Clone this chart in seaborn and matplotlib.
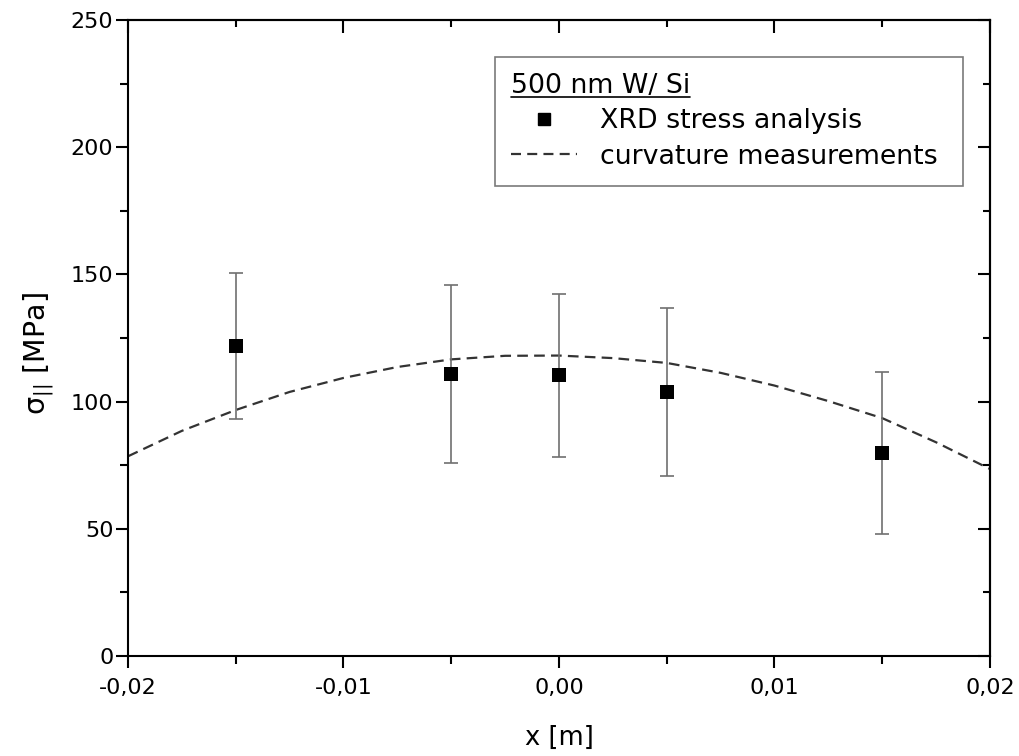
import numpy as np
import pandas as pd
import matplotlib
matplotlib.use("Agg")
import matplotlib.pyplot as plt
import seaborn as sns
from matplotlib.lines import Line2D
from matplotlib.ticker import MultipleLocator, FixedLocator, FixedFormatter

# ---- data ----
xrd_x = [-0.015, -0.005, 0.0, 0.005, 0.015]
xrd_sigma = [121.8, 110.8, 110.3, 103.6, 79.8]
xrd_err = [28.8, 35.0, 32.0, 33.0, 31.8]

curv_x = [-0.02, -0.0175, -0.015, -0.0125, -0.01, -0.0075, -0.005, -0.0025,
          0.0, 0.0025, 0.005, 0.0075, 0.01, 0.0125, 0.015, 0.0175, 0.02]
curv_sigma = [78.5, 88.5, 96.7, 103.8, 109.3, 113.6, 116.6, 118.0,
              118.1, 117.1, 115.2, 111.3, 106.3, 100.2, 93.5, 84.0, 73.5]

xticks = [-0.02, -0.01, 0.0, 0.01, 0.02]
xtick_labels = ["-0,02", "-0,01", "0,00", "0,01", "0,02"]
yticks = [0, 50, 100, 150, 200, 250]
ytick_labels = ["0", "50", "100", "150", "200", "250"]

legend_title = "500 nm W/ Si"
label_xrd = "XRD stress analysis"
label_curv = "curvature measurements"

xrd_df = pd.DataFrame({"x": xrd_x, "sigma": xrd_sigma, "err": xrd_err})
curv_df = pd.DataFrame({"x": curv_x, "sigma": curv_sigma})

# ---- style ----
sns.set_theme(style="ticks")
plt.rcParams["font.family"] = ["DejaVu Sans"]
plt.rcParams["mathtext.fontset"] = "dejavusans"
for k in ["text.color", "axes.labelcolor", "xtick.color", "ytick.color", "axes.edgecolor"]:
    plt.rcParams[k] = "black"

fig = plt.figure(figsize=(10.19, 7.56), dpi=100)
ax = fig.add_axes([128 / 1019, 1 - 656 / 756, (990 - 128) / 1019, (656 - 20) / 756])

# curve
sns.lineplot(data=curv_df, x="x", y="sigma", ax=ax, color="#333333",
             lw=1.6, legend=False, zorder=2)
ax.lines[-1].set_dashes((4.8, 2.8))

# error bars
ax.errorbar(xrd_df["x"], xrd_df["sigma"], yerr=xrd_df["err"], fmt="none",
            ecolor="#707070", elinewidth=1.2, capsize=5, capthick=1.2, zorder=3)
sns.scatterplot(data=xrd_df, x="x", y="sigma", ax=ax, marker="s", s=105,
                color="black", edgecolor="black", linewidth=0, zorder=4, legend=False)

ax.set_xlim(-0.02, 0.02)
ax.set_ylim(0, 250)
ax.xaxis.set_major_locator(FixedLocator(xticks))
ax.xaxis.set_major_formatter(FixedFormatter(xtick_labels))
ax.yaxis.set_major_locator(FixedLocator(yticks))
ax.yaxis.set_major_formatter(FixedFormatter(ytick_labels))
ax.xaxis.set_minor_locator(MultipleLocator(0.005))
ax.yaxis.set_minor_locator(MultipleLocator(25))

for sp in ax.spines.values():
    sp.set_visible(True)
    sp.set_linewidth(1.5)
    sp.set_color("black")

ax.tick_params(which="major", direction="out", length=8.5, width=1.5,
               labelsize=16, colors="black", top=False, right=False)
ax.tick_params(which="minor", direction="out", length=5.5, width=1.5,
               colors="black", top=False, right=False)
ax.tick_params(axis="x", which="major", pad=7.5)
ax.tick_params(axis="y", which="major", pad=2)

# inward ticks on top and right
secx = ax.secondary_xaxis("top")
secx.xaxis.set_major_locator(FixedLocator(xticks))
secx.xaxis.set_minor_locator(MultipleLocator(0.005))
secx.tick_params(which="major", direction="in", length=9, width=1.5, labeltop=False)
secx.tick_params(which="minor", direction="in", length=5, width=1.5)
secx.spines["top"].set_linewidth(1.5)
secy = ax.secondary_yaxis("right")
secy.yaxis.set_major_locator(FixedLocator(yticks))
secy.yaxis.set_minor_locator(MultipleLocator(25))
secy.tick_params(which="major", direction="in", length=9, width=1.5, labelright=False)
secy.tick_params(which="minor", direction="in", length=5, width=1.5)
secy.spines["right"].set_linewidth(1.5)

ax.set_xlabel("x [m]", fontsize=18.5, labelpad=19, color="black")
ax.set_ylabel(r"$\mathregular{\sigma_{||}}$ [MPa]", fontsize=20.5, color="black")
ax.yaxis.set_label_coords(-0.084, 0.475)

# legend
handles = [
    Line2D([], [], marker="s", ls="none", color="black", markersize=9),
    Line2D([], [], ls=(0, (4.5, 2.8)), color="#333333", lw=1.6),
]
L0, R0, T0, B0 = 495 / 1019, 963 / 1019, 1 - 57 / 756, 1 - 185 / 756
leg = ax.legend(handles, [label_xrd, label_curv], title=legend_title,
                loc="upper left", bbox_to_anchor=(L0, B0, R0 - L0, T0 - B0),
                bbox_transform=fig.transFigure, mode="expand",
                fontsize=19.3, title_fontsize=19.3,
                alignment="left", frameon=True, fancybox=False, edgecolor="#7a7a7a",
                framealpha=1, borderpad=0.6, labelspacing=0.35, handlelength=2.45,
                handletextpad=0.85, borderaxespad=0)
leg.get_frame().set_linewidth(1.2)
for t in leg.get_texts():
    t.set_color("black")
leg.get_title().set_color("black")

# underline the legend title
fig.canvas.draw()
bb = leg.get_title().get_window_extent(fig.canvas.get_renderer())
inv = fig.transFigure.inverted()
(x0, y0), (x1, _) = inv.transform([[bb.x0, bb.y0 + 2], [bb.x1, bb.y0]])
fig.add_artist(Line2D([x0, x1], [y0, y0], transform=fig.transFigure,
                      color="black", lw=1.2))

fig.savefig("out.png", dpi=100)
